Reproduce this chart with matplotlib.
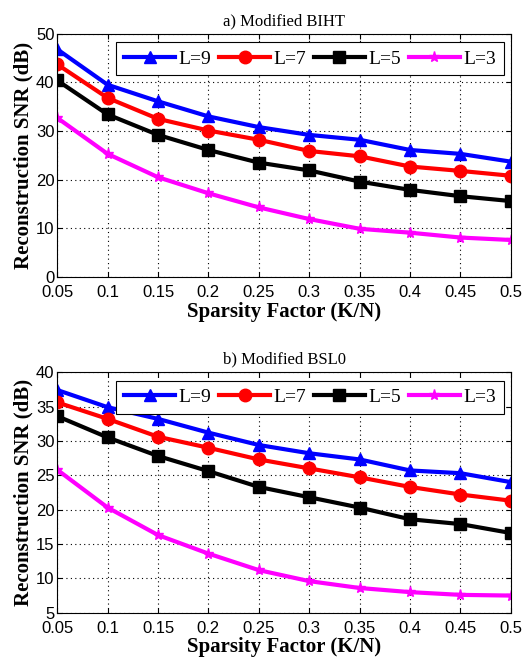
import numpy as np
import matplotlib
matplotlib.use("Agg")
import matplotlib.pyplot as plt

# sparsity factor K/N
K_N = [0.05, 0.1, 0.15, 0.2, 0.25, 0.3, 0.35, 0.4, 0.45, 0.5]

# a) Modified BIHT
biht_L9 = [46.8, 39.5, 36.1, 33.0, 30.8, 29.2, 28.2, 26.1, 25.3, 23.7]
biht_L7 = [43.7, 36.8, 32.5, 30.1, 28.2, 25.9, 24.8, 22.7, 21.8, 20.8]
biht_L5 = [40.4, 33.4, 29.2, 26.1, 23.5, 21.9, 19.6, 17.9, 16.6, 15.6]
biht_L3 = [32.7, 25.3, 20.5, 17.2, 14.3, 11.9, 9.9, 9.1, 8.1, 7.6]

# b) Modified BSL0
bsl0_L9 = [37.4, 34.9, 33.2, 31.2, 29.4, 28.2, 27.3, 25.7, 25.3, 24.0]
bsl0_L7 = [35.6, 33.2, 30.6, 29.0, 27.3, 26.0, 24.7, 23.3, 22.2, 21.3]
bsl0_L5 = [33.6, 30.5, 27.8, 25.6, 23.3, 21.8, 20.3, 18.6, 17.9, 16.6]
bsl0_L3 = [25.8, 20.3, 16.3, 13.6, 11.2, 9.6, 8.6, 8.0, 7.6, 7.5]

labels = ["L=9", "L=7", "L=5", "L=3"]
xtick_labels = ["0.05", "0.1", "0.15", "0.2", "0.25", "0.3", "0.35", "0.4", "0.45", "0.5"]

styles = [("blue", "^", 9), ("red", "o", 9), ("black", "s", 9), ("magenta", "*", 8)]
serif = ["Liberation Serif", "DejaVu Serif"]


def panel(ax, series, title, ylim, yticks):
    for y, lab, (c, m, ms) in zip(series, labels, styles):
        ax.plot(K_N, y, color=c, marker=m, markersize=ms, linewidth=3, label=lab)
    ax.set_xlim(0.05, 0.5)
    ax.set_ylim(*ylim)
    ax.set_xticks(K_N)
    ax.set_xticklabels(xtick_labels)
    ax.set_yticks(yticks)
    ax.grid(True, color="black", linestyle=(0, (1, 3)), linewidth=0.8)
    ax.tick_params(direction="in", top=True, right=True, labelsize=12)
    ax.tick_params(axis="x", pad=6)
    ax.tick_params(axis="y", pad=2)
    for t in ax.get_xticklabels() + ax.get_yticklabels():
        t.set_family(["Liberation Sans", "DejaVu Sans"])
    ax.set_title(title, fontsize=12, family=serif, pad=6)
    ax.set_xlabel("Sparsity Factor (K/N)", fontsize=15, family=serif, fontweight="bold", labelpad=1)
    ax.set_ylabel("Reconstruction SNR (dB)", fontsize=15, family=serif, fontweight="bold", labelpad=2)
    leg = ax.legend(loc="upper right", bbox_to_anchor=(0.985, 0.965), ncol=4, fancybox=False,
                    edgecolor="black", handlelength=2.6, columnspacing=0.4, handletextpad=0.2,
                    borderpad=0.4, borderaxespad=0, framealpha=1,
                    prop={"family": serif, "size": 14})
    leg.get_frame().set_linewidth(0.8)


fig = plt.figure(figsize=(5.25, 6.61), dpi=100)
ax1 = fig.add_axes([0.109, 0.581, 0.864, 0.368])
ax2 = fig.add_axes([0.109, 0.073, 0.864, 0.364])

panel(ax1, [biht_L9, biht_L7, biht_L5, biht_L3], "a) Modified BIHT", (0, 50), [0, 10, 20, 30, 40, 50])
panel(ax2, [bsl0_L9, bsl0_L7, bsl0_L5, bsl0_L3], "b) Modified BSL0", (5, 40), [5, 10, 15, 20, 25, 30, 35, 40])

fig.savefig("out.png", dpi=100)
